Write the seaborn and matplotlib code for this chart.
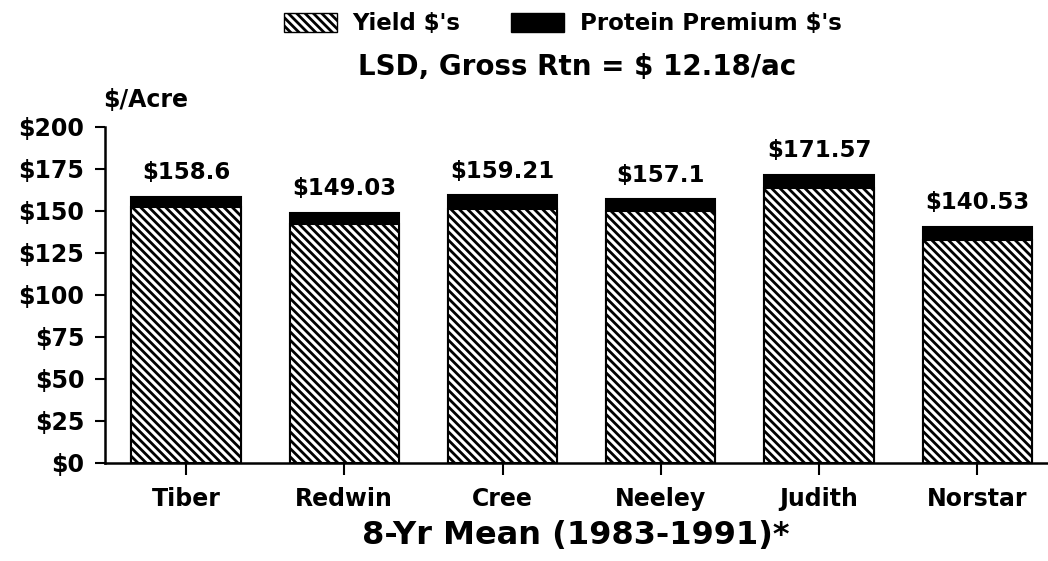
import matplotlib
matplotlib.use("Agg")
import matplotlib.pyplot as plt
import seaborn as sns
import pandas as pd
from matplotlib.patches import Patch
from matplotlib.ticker import FixedLocator

# ---- data ----
varieties = ["Tiber", "Redwin", "Cree", "Neeley", "Judith", "Norstar"]
gross_return = [158.6, 149.03, 159.21, 157.1, 171.57, 140.53]
protein_premium = [6.2, 7.0, 7.9, 7.1, 7.7, 7.7]
yield_dollars = [t - p for t, p in zip(gross_return, protein_premium)]
bar_labels = ["$158.6", "$149.03", "$159.21", "$157.1", "$171.57", "$140.53"]
y_ticks = [0, 25, 50, 75, 100, 125, 150, 175, 200]
y_tick_labels = ["$0", "$25", "$50", "$75", "$100", "$125", "$150", "$175", "$200"]

df = pd.DataFrame({"Variety": varieties, "Total": gross_return, "Yield": yield_dollars})

sns.set_style("ticks")
plt.rcParams["font.family"] = ["DejaVu Sans"]
plt.rcParams["font.weight"] = "bold"
plt.rcParams["hatch.linewidth"] = 2.0
plt.rcParams["text.color"] = "black"
plt.rcParams["axes.labelcolor"] = "black"
plt.rcParams["xtick.color"] = "black"
plt.rcParams["ytick.color"] = "black"
plt.rcParams["axes.edgecolor"] = "black"

fig = plt.figure(figsize=(10.48, 5.61), dpi=100)
ax = fig.add_axes([0.1002, 0.1747, 0.8988, 0.599])

HATCH = "\\\\\\\\"
# total (black premium on top)
sns.barplot(data=df, x="Variety", y="Total", color="black", width=0.69,
            edgecolor="black", linewidth=1.5, saturation=1, ax=ax, errorbar=None)
# yield portion, hatched
sns.barplot(data=df, x="Variety", y="Yield", color="white", width=0.69,
            edgecolor="black", linewidth=1.5, saturation=1, hatch=HATCH,
            ax=ax, errorbar=None)

ax.bar_label(ax.containers[0], labels=bar_labels, padding=9,
             fontsize=16.5, fontweight="bold", color="black")

ax.set_ylim(0, 200)
ax.set_xlim(-0.512, 5.44)
ax.yaxis.set_major_locator(FixedLocator(y_ticks))
ax.set_yticklabels(y_tick_labels)
ax.tick_params(axis="y", labelsize=17, length=7, width=1.5, pad=8,
               colors="black")
ax.tick_params(axis="x", labelsize=17, length=8.5, width=1.5, pad=9,
               colors="black")
for lab in ax.get_xticklabels() + ax.get_yticklabels():
    lab.set_fontweight("bold")

sns.despine(ax=ax)
for side in ["left", "bottom"]:
    ax.spines[side].set_linewidth(1.8)
    ax.spines[side].set_color("black")

ax.set_ylabel("")
ax.set_xlabel("8-Yr Mean (1983-1991)*", fontsize=23, fontweight="bold",
              labelpad=6, color="black")

fig.text(0.098, 0.8, "$/Acre", fontsize=17, fontweight="bold", ha="left",
         va="bottom", color="black")
fig.text(0.551, 0.866, "LSD, Gross Rtn = $ 12.18/ac", fontsize=20,
         fontweight="bold", ha="center", va="baseline", color="black")

handles = [Patch(facecolor="white", edgecolor="black", hatch=HATCH, linewidth=1.0),
           Patch(facecolor="black", edgecolor="black")]
fig.legend(handles, ["Yield $'s", "Protein Premium $'s"], loc="center",
           bbox_to_anchor=(0.537, 0.958), ncol=2, frameon=False,
           prop={"size": 16.5, "weight": "bold"}, handlelength=2.3,
           handleheight=0.9, handletextpad=0.7, columnspacing=2.2,
           labelcolor="black")

fig.savefig("out.png", dpi=100)
